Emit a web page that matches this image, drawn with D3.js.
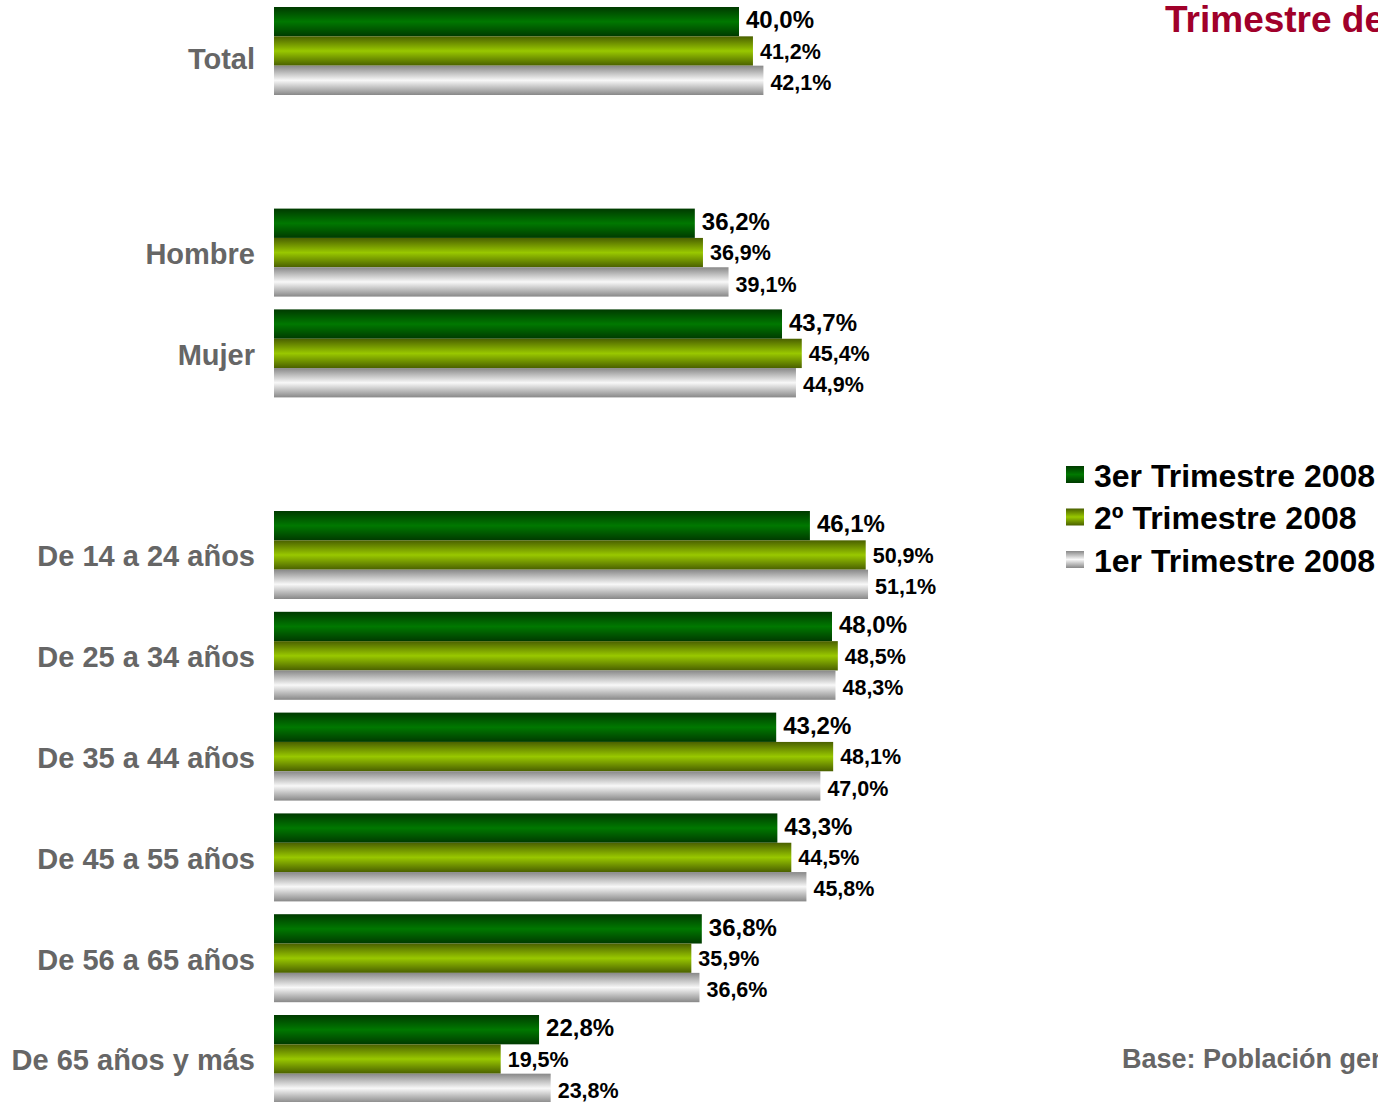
<!DOCTYPE html>
<html>
<head>
<meta charset="utf-8">
<script src="https://cdn.jsdelivr.net/npm/d3@7"></script>
<style>
  body { margin: 0; background: #fff; }
  svg { display: block; font-family: "Liberation Sans", Arial, sans-serif; }
</style>
</head>
<body>
<svg id="chart" width="1378" height="1102"></svg>
<script>
// categories (empty keys are the gaps between blocks)
var categories = ["Total", "gap1", "Hombre", "Mujer", "gap2",
  "De 14 a 24 años", "De 25 a 34 años", "De 35 a 44 años",
  "De 45 a 55 años", "De 56 a 65 años", "De 65 años y más"];
var series = ["3er Trimestre 2008", "2º Trimestre 2008", "1er Trimestre 2008"];

// values per series, in category order (null for gaps)
var tri3 = [40.0, null, 36.2, 43.7, null, 46.1, 48.0, 43.2, 43.3, 36.8, 22.8];
var tri2 = [41.2, null, 36.9, 45.4, null, 50.9, 48.5, 48.1, 44.5, 35.9, 19.5];
var tri1 = [42.1, null, 39.1, 44.9, null, 51.1, 48.3, 47.0, 45.8, 36.6, 23.8];
var values = [tri3, tri2, tri1];

var svg = d3.select("#chart");
var fmt = v => d3.format(".1f")(v).replace(".", ",") + "%";

// gradients, dark edges to light middle
var grads = [
  ["#003a00", "#007800", "#003a00"],
  ["#4a6000", "#99c800", "#4a6000"],
  ["#888888", "#f8f8f8", "#888888"]
];
var defs = svg.append("defs");
grads.forEach((g, i) => {
  var lg = defs.append("linearGradient").attr("id", "g" + i)
    .attr("x1", 0).attr("y1", 0).attr("x2", 0).attr("y2", 1);
  lg.append("stop").attr("offset", "0%").attr("stop-color", g[0]);
  lg.append("stop").attr("offset", "50%").attr("stop-color", g[1]);
  lg.append("stop").attr("offset", "100%").attr("stop-color", g[2]);
});

var x = d3.scaleLinear().domain([0, 10]).range([274, 390.25]);
var y = d3.scaleBand().domain(categories)
  .range([0.6, 1109.4]).paddingInner(0.127).paddingOuter(0.0635);
var ys = d3.scaleBand().domain(d3.range(3)).range([0, y.bandwidth()]);

var labelDy = [-2, 0, 2];
var labelSize = [24, 21.5, 21.5];

var rows = [];
categories.forEach((c, ci) => {
  values.forEach((s, si) => {
    if (s[ci] != null) rows.push({ cat: c, s: si, v: s[ci] });
  });
});

svg.append("g").selectAll("rect").data(rows).join("rect")
  .attr("x", x(0))
  .attr("y", d => y(d.cat) + ys(d.s))
  .attr("width", d => x(d.v) - x(0))
  .attr("height", ys.bandwidth())
  .attr("fill", d => "url(#g" + d.s + ")");

svg.append("g").selectAll("text").data(rows).join("text")
  .attr("x", d => x(d.v) + 7)
  .attr("y", d => y(d.cat) + ys(d.s) + ys.bandwidth() / 2 + labelDy[d.s])
  .attr("dy", "0.36em")
  .attr("font-size", d => labelSize[d.s])
  .attr("font-weight", "bold")
  .attr("fill", "#000")
  .text(d => fmt(d.v));

// category labels
svg.append("g").selectAll("text")
  .data(categories.filter(c => !c.startsWith("gap"))).join("text")
  .attr("x", 255)
  .attr("y", d => y(d) + y.bandwidth() / 2 + (d === "Total" ? 8 : 1))
  .attr("dy", "0.36em")
  .attr("text-anchor", "end")
  .attr("font-size", 29)
  .attr("font-weight", "bold")
  .attr("fill", "#666")
  .text(d => d);

// legend
var leg = svg.append("g").selectAll("g").data(series).join("g")
  .attr("transform", (d, i) => "translate(1066," + (466 + i * 42.5) + ")");
leg.append("rect").attr("width", 18).attr("height", 17)
  .attr("fill", (d, i) => "url(#g" + i + ")");
leg.append("text").attr("x", 28).attr("y", 9).attr("dy", "0.36em")
  .attr("font-size", 32).attr("font-weight", "bold").attr("fill", "#000")
  .text(d => d);

// title and note (cut off at the right edge)
svg.append("text").attr("x", 1165).attr("y", 32)
  .attr("font-size", 37).attr("font-weight", "bold").attr("fill", "#a0002a")
  .text("Trimestre de 2008");
svg.append("text").attr("x", 1122).attr("y", 1068)
  .attr("font-size", 27).attr("font-weight", "bold").attr("fill", "#666")
  .text("Base: Población general");
</script>
</body>
</html>
